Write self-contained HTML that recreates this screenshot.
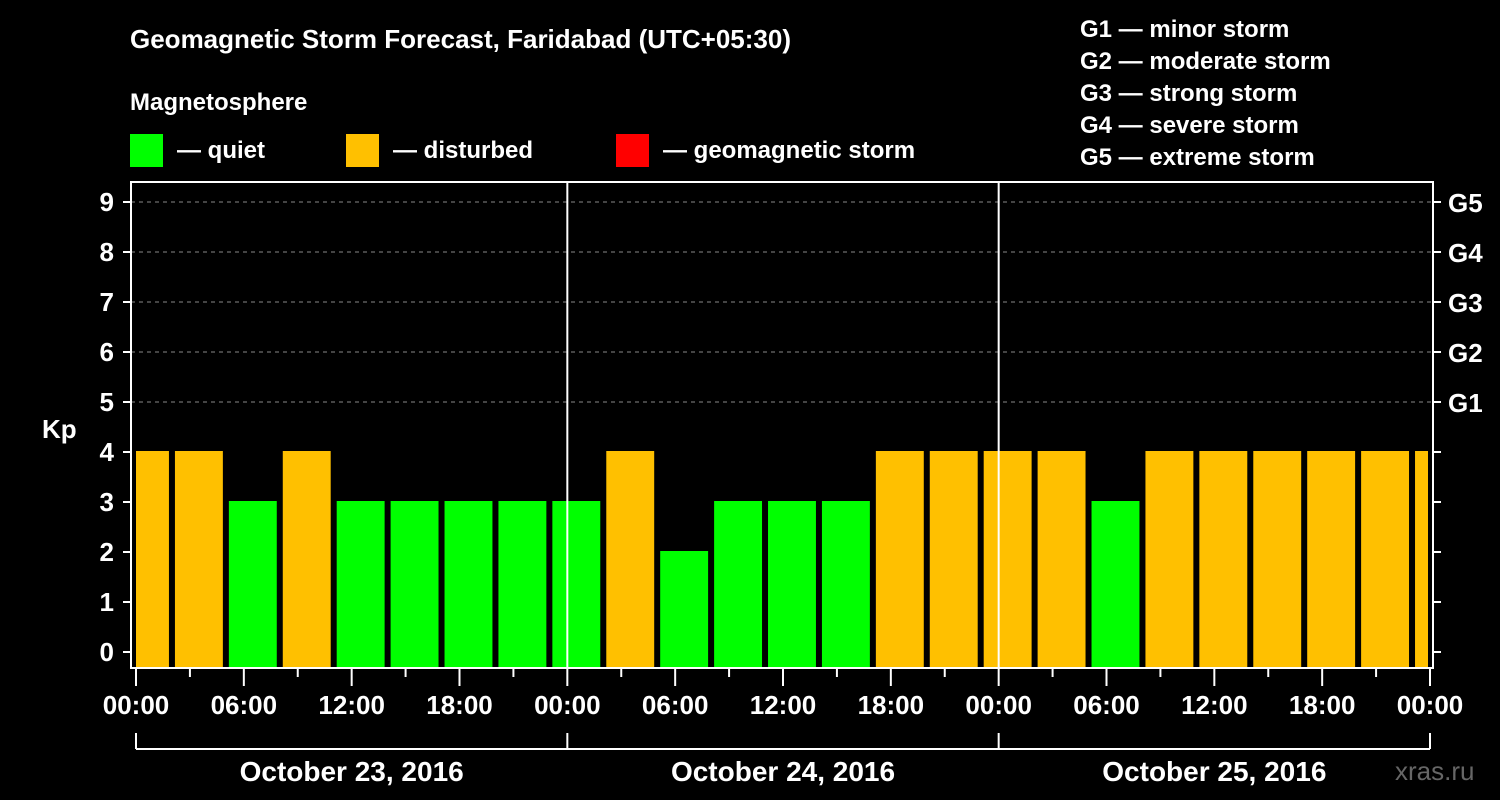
<!DOCTYPE html>
<html><head><meta charset="utf-8"><style>
body{margin:0;background:#000;}
svg{display:block;font-family:"Liberation Sans",Arial,sans-serif;font-weight:bold;}
</style></head><body>
<svg id="chart" width="1500" height="800" viewBox="0 0 1500 800">
<rect width="1500" height="800" fill="#000"/>
<text x="130" y="48" fill="#fff" font-size="26">Geomagnetic Storm Forecast, Faridabad (UTC+05:30)</text>
<text x="130" y="110" fill="#fff" font-size="24">Magnetosphere</text>
<g><rect x="130" y="134" width="33" height="33" fill="#00ff00"/><text x="177" y="158" fill="#fff" font-size="24">— quiet</text></g>
<g><rect x="346" y="134" width="33" height="33" fill="#ffc000"/><text x="393" y="158" fill="#fff" font-size="24">— disturbed</text></g>
<g><rect x="616" y="134" width="33" height="33" fill="#ff0000"/><text x="663" y="158" fill="#fff" font-size="24">— geomagnetic storm</text></g>
<g fill="#fff" font-size="24">
<text x="1080" y="37">G1 — minor storm</text>
<text x="1080" y="69">G2 — moderate storm</text>
<text x="1080" y="101">G3 — strong storm</text>
<text x="1080" y="133">G4 — severe storm</text>
<text x="1080" y="165">G5 — extreme storm</text>
</g>
<text x="42" y="438" fill="#fff" font-size="26">Kp</text>
<g id="grid"></g><g id="bars"></g><g id="axes"></g>
<text x="1395" y="780" fill="#666" font-size="26" font-weight="normal">xras.ru</text>
</svg>
<script>
const kpValues=[4,4,3,4,3,3,3,3,3,4,2,3,3,3,4,4,4,4,3,4,4,4,4,4,4];
const yTicks=[0,1,2,3,4,5,6,7,8,9];
const gLabels=["G1","G2","G3","G4","G5"];
const timeLabels=["00:00","06:00","12:00","18:00","00:00","06:00","12:00","18:00","00:00","06:00","12:00","18:00","00:00"];
const dayLabels=["October 23, 2016","October 24, 2016","October 25, 2016"];
const NS="http://www.w3.org/2000/svg";
const L=131,R=1433,T=182,B=668;
const x=h=>136+h*(1294/72);
const y=v=>652-v*50;
function mk(tag,attrs,parent,text){const e=document.createElementNS(NS,tag);for(const k in attrs)e.setAttribute(k,attrs[k]);if(text!==undefined)e.textContent=text;parent.appendChild(e);return e;}
const grid=document.getElementById('grid'),bars=document.getElementById('bars'),axes=document.getElementById('axes');
for(let v=5;v<=9;v++){const l=mk('line',{x1:L,x2:R,y1:y(v),y2:y(v),stroke:'#888','stroke-dasharray':'4,4','stroke-width':1},grid);

}
kpValues.forEach((v,k)=>{let x0=x(3*k-1)+3,x1=x(3*k+2)-3;x0=Math.max(x0,136);x1=Math.min(x1,1428);
const c=v>=5?'#ff0000':(v>=4?'#ffc000':'#00ff00');
const r=mk('rect',{x:x0,y:y(v)-1,width:x1-x0,height:B-y(v)+1,fill:c},bars);

});
mk('rect',{x:L,y:T,width:R-L,height:B-T,fill:'none',stroke:'#fff','stroke-width':2},axes);
[24,48].forEach(h=>mk('line',{x1:x(h),x2:x(h),y1:T,y2:B,stroke:'#fff','stroke-width':2},axes));
yTicks.forEach(v=>{mk('line',{x1:L-8,x2:L,y1:y(v),y2:y(v),stroke:'#fff','stroke-width':2},axes);
mk('line',{x1:R,x2:R+8,y1:y(v),y2:y(v),stroke:'#fff','stroke-width':2},axes);
const t=mk('text',{x:114,y:y(v)+9,fill:'#fff','font-size':26,'text-anchor':'end'},axes,String(v));

});
gLabels.forEach((g,i)=>{const t=mk('text',{x:1448,y:y(5+i)+10,fill:'#fff','font-size':26},axes,g);

});
for(let h=0;h<=72;h+=3){const major=h%6===0;mk('line',{x1:x(h),x2:x(h),y1:B,y2:major?B+18:B+9,stroke:'#fff','stroke-width':2},axes);}
timeLabels.forEach((s,i)=>{const t=mk('text',{x:x(i*6),y:714,fill:'#fff','font-size':26,'text-anchor':'middle'},axes,s);

});
mk('line',{x1:x(0),x2:x(72),y1:749,y2:749,stroke:'#fff','stroke-width':2},axes);
[0,24,48,72].forEach(h=>mk('line',{x1:x(h),x2:x(h),y1:733,y2:749,stroke:'#fff','stroke-width':2},axes));
dayLabels.forEach((s,i)=>{const t=mk('text',{x:x(i*24+12),y:781,fill:'#fff','font-size':28,'text-anchor':'middle'},axes,s);

});
</script>
</body></html>
